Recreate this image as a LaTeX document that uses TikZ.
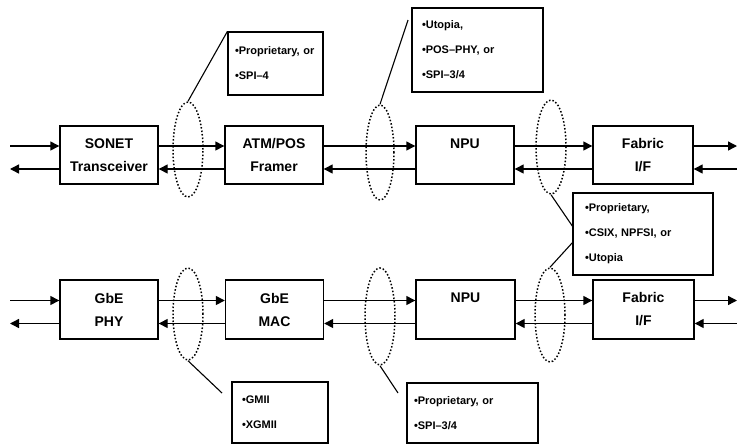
\documentclass[tikz,border=0pt]{standalone}
\usepackage{fontspec}
\setmainfont{Liberation Sans}
\usetikzlibrary{arrows.meta,shapes.geometric}

\begin{document}
\begin{tikzpicture}[
  x=1pt, y=-1pt,
  blk/.style={draw, rectangle, line width=1.4pt, minimum width=98pt, minimum height=58pt, inner sep=0pt, align=center, font=\fontsize{14}{23}\selectfont\bfseries},
  note/.style={draw, rectangle, line width=1.2pt, inner xsep=10pt, inner ysep=0pt, align=left, font=\fontsize{11}{25}\selectfont\bfseries},
  ring/.style={draw, ellipse, dotted, line width=1.5pt, minimum width=30pt, inner sep=0pt},
  flow/.style={-{Triangle[length=9pt,width=9pt]}, line width=1.4pt},
  lead/.style={line width=1.1pt},
]
\useasboundingbox (0,0) rectangle (737,445);

% SONET path
\node[blk] (sonet) at (109,155) {SONET\\Transceiver};
\node[blk] (atm)   at (274,155) {ATM/POS\\Framer};
\node[blk] (npuA)  at (465,155) {NPU\\\mbox{}};
\node[blk, minimum width=100pt] (fabA) at (643,155) {Fabric\\I/F};

% GbE path
\node[blk, minimum height=59pt] (phy)  at (109,309.5) {GbE\\PHY};
\node[blk, minimum height=59pt] (mac)  at (274.5,309.5) {GbE\\MAC};
\node[blk, minimum height=59pt, minimum width=99pt] (npuB) at (465.5,309.5) {NPU\\\mbox{}};
\node[blk, minimum height=59pt, minimum width=101pt] (fabB) at (643.5,309.5) {Fabric\\I/F};

% outside ends
\coordinate (inA)  at (10,146);
\coordinate (outA) at (10,169);
\coordinate (toA)  at (737,146);
\coordinate (frA)  at (737,169);
\coordinate (inB)  at (10,300.5);
\coordinate (outB) at (10,323.5);
\coordinate (toB)  at (737,300.5);
\coordinate (frB)  at (737,323.5);

% flows, top row
\draw[flow] (inA) -- ([yshift=9pt]sonet.west);
\draw[flow] ([yshift=-14pt]sonet.west) -- (outA);
\draw[flow] ([yshift=9pt]sonet.east) -- ([yshift=9pt]atm.west);
\draw[flow] ([yshift=-14pt]atm.west) -- ([yshift=-14pt]sonet.east);
\draw[flow] ([yshift=9pt]atm.east) -- ([yshift=9pt]npuA.west);
\draw[flow] ([yshift=-14pt]npuA.west) -- ([yshift=-14pt]atm.east);
\draw[flow] ([yshift=9pt]npuA.east) -- ([yshift=9pt]fabA.west);
\draw[flow] ([yshift=-14pt]fabA.west) -- ([yshift=-14pt]npuA.east);
\draw[flow] ([yshift=9pt]fabA.east) -- (toA);
\draw[flow] (frA) -- ([yshift=-14pt]fabA.east);

% flows, bottom row
\draw[flow] (inB) -- ([yshift=9pt]phy.west);
\draw[flow] ([yshift=-14pt]phy.west) -- (outB);
\draw[flow] ([yshift=9pt]phy.east) -- ([yshift=9pt]mac.west);
\draw[flow] ([yshift=-14pt]mac.west) -- ([yshift=-14pt]phy.east);
\draw[flow] ([yshift=9pt]mac.east) -- ([yshift=9pt]npuB.west);
\draw[flow] ([yshift=-14pt]npuB.west) -- ([yshift=-14pt]mac.east);
\draw[flow] ([yshift=9pt]npuB.east) -- ([yshift=9pt]fabB.west);
\draw[flow] ([yshift=-14pt]fabB.west) -- ([yshift=-14pt]npuB.east);
\draw[flow] ([yshift=9pt]fabB.east) -- (toB);
\draw[flow] (frB) -- ([yshift=-14pt]fabB.east);

% interface rings
\node[ring, minimum height=95pt] (rA1) at (188,149.5) {};
\node[ring, minimum height=95pt, minimum width=28pt] (rA2) at (380,152.5) {};
\node[ring, minimum height=94pt] (rA3) at (551,147) {};
\node[ring, minimum height=92pt] (rB1) at (188,314) {};
\node[ring, minimum height=97pt] (rB2) at (380,316.5) {};
\node[ring, minimum height=94pt] (rB3) at (550,315) {};

% callouts
\node[note, inner xsep=7pt, text width=81pt, minimum height=63pt] (nA1) at (275.5,63.5) {•Proprietary,~or\\•SPI–4};
\node[note, text width=111pt, minimum height=84pt] (nA2) at (477.5,50) {•Utopia,\\•POS–PHY, or\\•SPI–3/4};
\node[note, inner xsep=12pt, text width=116pt, minimum height=82pt] (nAB) at (643,234) {•Proprietary,\\•CSIX, NPFSI, or\\•Utopia};
\node[note, text width=76pt, minimum height=61pt] (nB1) at (280,412.5) {•GMII\\•XGMII};
\node[note, inner xsep=7pt, text width=117pt, minimum height=60pt] (nB2) at (472.5,413) {•Proprietary, or\\•SPI–3/4};

\coordinate (kA2) at (408,20);
\coordinate (kA3) at (573,227);
\coordinate (kB3) at (573,242);
\coordinate (kB1) at (222,393);
\coordinate (kB2) at (398,393);

\draw[lead] (rA1.north) -- (nA1.north west);
\draw[lead] (rA2.north) -- (kA2);
\draw[lead] (rA3.south) -- (kA3);
\draw[lead] (rB3.north) -- (kB3);
\draw[lead] (rB1.south) -- (kB1);
\draw[lead] (rB2.south) -- (kB2);

\end{tikzpicture}
\end{document}
